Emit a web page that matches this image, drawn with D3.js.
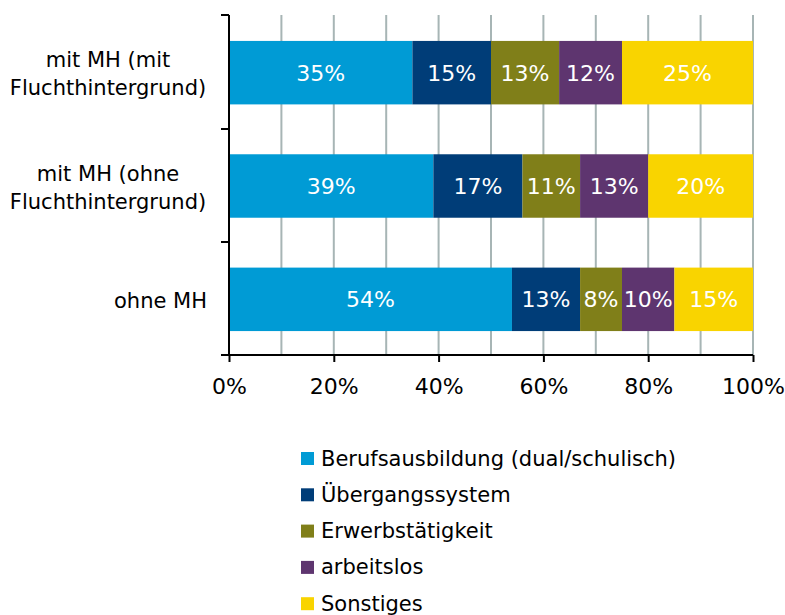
<!DOCTYPE html>
<html>
<head>
<meta charset="utf-8">
<script src="https://cdn.jsdelivr.net/npm/d3@7"></script>
<style>
  body { margin: 0; background: #fff; }
  svg text { font-family: "DejaVu Sans", sans-serif; }
</style>
</head>
<body>
<svg id="chart"></svg>
<script>
// data
let categories = ["mit MH (mit|Fluchthintergrund)", "mit MH (ohne|Fluchthintergrund)", "ohne MH"]
let seriesNames = ["Berufsausbildung (dual/schulisch)", "Übergangssystem", "Erwerbstätigkeit", "arbeitslos", "Sonstiges"]
let colors = ["#009bd5", "#003d78", "#807f19", "#5e356f", "#f9d400"]
let values = [
  [35, 39, 54],
  [15, 17, 13],
  [13, 11, 8],
  [12, 13, 10],
  [25, 20, 15]
]
let tickValues = [0, 20, 40, 60, 80, 100]
let gridValues = [10, 20, 30, 40, 50, 60, 70, 80, 90, 100]

let svg = d3.select("#chart").attr("width", 785).attr("height", 615)

let x = d3.scaleLinear().domain([0, 100]).range([229, 753])
let y = d3.scaleBand().domain(categories).range([16, 356]).paddingInner(0.44).paddingOuter(0.22)

// gridlines
svg.append("g").selectAll("line")
  .data(gridValues)
  .join("line")
  .attr("x1", d => x(d)).attr("x2", d => x(d))
  .attr("y1", 15).attr("y2", 355)
  .attr("stroke", "#a7b5b5")
  .attr("stroke-width", 2)

// stacked bars
let rows = categories.map((c, i) => {
  let obj = { cat: c }
  seriesNames.forEach((s, j) => obj[s] = values[j][i])
  return obj
})
let stack = d3.stack().keys(seriesNames)(rows)

let layer = svg.append("g").selectAll("g")
  .data(stack)
  .join("g")
  .attr("fill", (d, i) => colors[i])

layer.selectAll("rect")
  .data(d => d)
  .join("rect")
  .attr("x", d => x(d[0]))
  .attr("width", d => x(d[1]) - x(d[0]))
  .attr("y", d => y(d.data.cat))
  .attr("height", y.bandwidth())

layer.selectAll("text")
  .data(d => d)
  .join("text")
  .attr("x", d => (x(d[0]) + x(d[1])) / 2)
  .attr("y", d => y(d.data.cat) + y.bandwidth() / 2)
  .attr("dy", "0.36em")
  .attr("text-anchor", "middle")
  .attr("fill", "#fff")
  .attr("font-size", 22)
  .text(d => (d[1] - d[0]) + "%")

// x axis
let xAxis = svg.append("g")
  .attr("transform", "translate(0,355)")
  .call(d3.axisBottom(x).tickValues(tickValues).tickFormat(d => d + "%").tickSize(7).tickSizeOuter(0))
xAxis.select(".domain").attr("stroke", "#000").attr("stroke-width", 2).attr("d", "M221,0H753")
xAxis.selectAll(".tick line").attr("stroke", "#000").attr("stroke-width", 2)
xAxis.selectAll(".tick text").attr("font-size", 22).attr("fill", "#000").attr("y", 23)

// y axis
let yAxis = svg.append("g").attr("transform", "translate(229,0)")
yAxis.append("line").attr("x1", 0).attr("x2", 0).attr("y1", 15).attr("y2", 355)
  .attr("stroke", "#000").attr("stroke-width", 2)
let yTicks = [15, 129, 242, 355]
yAxis.selectAll(".ytick").data(yTicks).join("line").attr("class", "ytick")
  .attr("x1", -8).attr("x2", 0).attr("y1", d => d).attr("y2", d => d)
  .attr("stroke", "#000").attr("stroke-width", 2)

yAxis.selectAll(".ylab").data(categories).join("text").attr("class", "ylab")
  .attr("font-size", 21)
  .attr("fill", "#000")
  .attr("text-anchor", "middle")
  .each(function (c) {
    let parts = c.split("|")
    let t = d3.select(this)
    let cy = y(c) + y.bandwidth() / 2 + 1
    let top = cy - (parts.length - 1) * 28 / 2
    parts.forEach((p, k) => {
      t.append("tspan").attr("x", parts.length > 1 ? -121 : -22).attr("y", top + k * 28)
        .attr("dy", "0.36em").text(p)
    })
    if (parts.length === 1) t.attr("text-anchor", "end")
  })

// legend
let legend = svg.append("g").selectAll("g")
  .data(seriesNames)
  .join("g")
  .attr("transform", (d, i) => "translate(301," + (458 + i * 36.3) + ")")
legend.append("rect").attr("x", 0).attr("y", -6).attr("width", 13).attr("height", 13)
  .attr("fill", (d, i) => colors[i])
legend.append("text").attr("x", 20).attr("dy", "0.36em").attr("font-size", 21)
  .attr("fill", "#000").text(d => d)
</script>
</body>
</html>
